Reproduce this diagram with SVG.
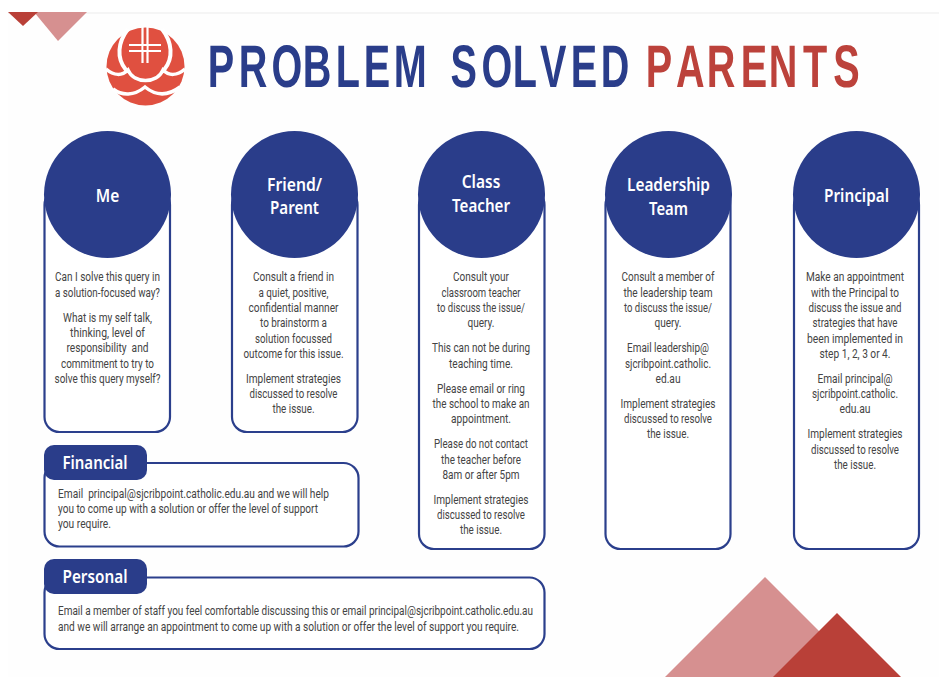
<svg xmlns="http://www.w3.org/2000/svg" width="939" height="677" viewBox="0 0 939 677">
<style>
.box{fill:#fff;stroke:#2b3f8c;stroke-width:2.2}
.head{fill:#2a3d8a}
.t{font-family:Roboto,"Liberation Sans",sans-serif;font-size:13px;fill:#444;text-anchor:middle;white-space:pre}
.l{font-family:Roboto,"Liberation Sans",sans-serif;font-size:13px;fill:#444;white-space:pre}
.h{font-family:"Noto Sans","Liberation Sans",sans-serif;font-size:17px;font-weight:600;fill:#fff;text-anchor:middle}
.title{font-family:"Liberation Sans",Arial,sans-serif;font-size:60px;font-weight:700;text-rendering:geometricPrecision}
</style>
<rect width="939" height="677" fill="#fff"/>
<rect x="8" y="12" width="931" height="665" fill="#fefefe"/>
<rect x="8" y="12" width="931" height="2" fill="#f5f5f5"/>
<g id="decor">
<polygon points="34,12 87,12 58,41" fill="#d69090"/>
<polygon points="8,12 38,12 23,26" fill="#b94038"/>
<polygon points="665,677 765,577 865,677" fill="#d69090"/>
<polygon points="773,677 837,613 901,677" fill="#b94038"/>
</g>
<g id="logo">
<circle cx="145.500" cy="66.500" r="39" fill="#e05040"/>
<path d="M128 29C118 42 116 58 126 70" fill="none" stroke="#fff" stroke-width="4"/>
<path d="M162 29C172 42 174 58 164 70" fill="none" stroke="#fff" stroke-width="4"/>
<path d="M106 69C114 76 122 76 128 70C134 84 157 84 163 70C169 76 177 76 185 69" fill="none" stroke="#fff" stroke-width="3.500"/>
<path d="M113 89C122 96 134 96 145 87C156 96 168 96 180 87" fill="none" stroke="#fff" stroke-width="3.500"/>
<path d="M142.500 27V63M147.500 27V63M129 45H161M129 51H161" fill="none" stroke="#fff" stroke-width="2.200"/>
<rect x="143.600" y="46.100" width="2.800" height="3.800" fill="#e05040"/>
</g>
<g id="title">
<text class="title" fill="#2a3d8a" transform="translate(0,87) scale(.66,1)" x="314.700 361.700 411.300 458.600 508.600 551 596.500">PROBLEM</text>
<text class="title" fill="#2a3d8a" transform="translate(0,87) scale(.66,1)" x="682.600 729.600 776.900 818.200 864.700 910.200">SOLVED</text>
<text class="title" fill="#bc423b" transform="translate(0,87) scale(.66,1)" x="978.400 1024.200 1070.700 1122.200 1164.700 1216.700 1262.700">PARENTS</text>
</g>
<g id="connectors"></g>
<g id="me">
<rect class="box" x="44.500" y="190" width="125.500" height="242" rx="15"/>
<circle class="head" cx="107.500" cy="194.500" r="63.500"/>
<text class="h" x="107.500" y="201.700" textLength="23.500" lengthAdjust="spacingAndGlyphs">Me</text>
<text class="t" x="107.500" y="281" textLength="105" lengthAdjust="spacingAndGlyphs">Can I solve this query in</text>
<text class="t" x="107.500" y="296.500" textLength="105" lengthAdjust="spacingAndGlyphs">a solution-focused way?</text>
<text class="t" x="107.500" y="322" textLength="89" lengthAdjust="spacingAndGlyphs">What is my self talk,</text>
<text class="t" x="107.500" y="337" textLength="75" lengthAdjust="spacingAndGlyphs">thinking, level of</text>
<text class="t" x="107.500" y="352" textLength="82" lengthAdjust="spacingAndGlyphs">responsibility  and</text>
<text class="t" x="107.500" y="367.500" textLength="93" lengthAdjust="spacingAndGlyphs">commitment to try to</text>
<text class="t" x="107.500" y="383" textLength="106" lengthAdjust="spacingAndGlyphs">solve this query myself?</text>
</g>
<g id="friend">
<rect class="box" x="232" y="190" width="125.500" height="242" rx="15"/>
<circle class="head" cx="294.500" cy="194.500" r="63.500"/>
<text class="h" x="294.500" y="190.700" textLength="55" lengthAdjust="spacingAndGlyphs">Friend/</text>
<text class="h" x="294.500" y="214" textLength="49" lengthAdjust="spacingAndGlyphs">Parent</text>
<text class="t" x="293.500" y="281" textLength="81" lengthAdjust="spacingAndGlyphs">Consult a friend in</text>
<text class="t" x="293.500" y="296.500" textLength="70" lengthAdjust="spacingAndGlyphs">a quiet, positive,</text>
<text class="t" x="293.500" y="312" textLength="90" lengthAdjust="spacingAndGlyphs">confidential manner</text>
<text class="t" x="293.500" y="327" textLength="67" lengthAdjust="spacingAndGlyphs">to brainstorm a</text>
<text class="t" x="293.500" y="342.500" textLength="77" lengthAdjust="spacingAndGlyphs">solution focussed</text>
<text class="t" x="293.500" y="358" textLength="100" lengthAdjust="spacingAndGlyphs">outcome for this issue.</text>
<text class="t" x="293.500" y="383" textLength="95" lengthAdjust="spacingAndGlyphs">Implement strategies</text>
<text class="t" x="293.500" y="398" textLength="88" lengthAdjust="spacingAndGlyphs">discussed to resolve</text>
<text class="t" x="293.500" y="413" textLength="42" lengthAdjust="spacingAndGlyphs">the issue.</text>
</g>
<g id="teacher">
<rect class="box" x="419" y="190" width="125.500" height="359" rx="15"/>
<circle class="head" cx="481.500" cy="194.500" r="63.500"/>
<text class="h" x="481" y="188" textLength="38.500" lengthAdjust="spacingAndGlyphs">Class</text>
<text class="h" x="481" y="211.700" textLength="58" lengthAdjust="spacingAndGlyphs">Teacher</text>
<text class="t" x="481" y="281" textLength="56" lengthAdjust="spacingAndGlyphs">Consult your</text>
<text class="t" x="481" y="296.500" textLength="79" lengthAdjust="spacingAndGlyphs">classroom teacher</text>
<text class="t" x="481" y="312" textLength="88" lengthAdjust="spacingAndGlyphs">to discuss the issue/</text>
<text class="t" x="481" y="327" textLength="27" lengthAdjust="spacingAndGlyphs">query.</text>
<text class="t" x="481" y="352" textLength="98" lengthAdjust="spacingAndGlyphs">This can not be during</text>
<text class="t" x="481" y="367.500" textLength="64" lengthAdjust="spacingAndGlyphs">teaching time.</text>
<text class="t" x="481" y="393" textLength="88" lengthAdjust="spacingAndGlyphs">Please email or ring</text>
<text class="t" x="481" y="408" textLength="97" lengthAdjust="spacingAndGlyphs">the school to make an</text>
<text class="t" x="481" y="423" textLength="60" lengthAdjust="spacingAndGlyphs">appointment.</text>
<text class="t" x="481" y="448" textLength="94" lengthAdjust="spacingAndGlyphs">Please do not contact</text>
<text class="t" x="481" y="463.500" textLength="80" lengthAdjust="spacingAndGlyphs">the teacher before</text>
<text class="t" x="481" y="479" textLength="77" lengthAdjust="spacingAndGlyphs">8am or after 5pm</text>
<text class="t" x="481" y="504" textLength="95" lengthAdjust="spacingAndGlyphs">Implement strategies</text>
<text class="t" x="481" y="519" textLength="88" lengthAdjust="spacingAndGlyphs">discussed to resolve</text>
<text class="t" x="481" y="534" textLength="42" lengthAdjust="spacingAndGlyphs">the issue.</text>
</g>
<g id="leadership">
<rect class="box" x="605.500" y="190" width="125" height="359" rx="15"/>
<circle class="head" cx="668.500" cy="194.500" r="63.500"/>
<text class="h" x="668.500" y="191" textLength="83" lengthAdjust="spacingAndGlyphs">Leadership</text>
<text class="h" x="668.500" y="215" textLength="39" lengthAdjust="spacingAndGlyphs">Team</text>
<text class="t" x="668" y="281" textLength="93" lengthAdjust="spacingAndGlyphs">Consult a member of</text>
<text class="t" x="668" y="296.500" textLength="89" lengthAdjust="spacingAndGlyphs">the leadership team</text>
<text class="t" x="668" y="312" textLength="88" lengthAdjust="spacingAndGlyphs">to discuss the issue/</text>
<text class="t" x="668" y="327" textLength="27" lengthAdjust="spacingAndGlyphs">query.</text>
<text class="t" x="668" y="352" textLength="82" lengthAdjust="spacingAndGlyphs">Email leadership@</text>
<text class="t" x="668" y="367.500" textLength="86" lengthAdjust="spacingAndGlyphs">sjcribpoint.catholic.</text>
<text class="t" x="668" y="383" textLength="25" lengthAdjust="spacingAndGlyphs">ed.au</text>
<text class="t" x="668" y="408" textLength="95" lengthAdjust="spacingAndGlyphs">Implement strategies</text>
<text class="t" x="668" y="423" textLength="88" lengthAdjust="spacingAndGlyphs">discussed to resolve</text>
<text class="t" x="668" y="438" textLength="42" lengthAdjust="spacingAndGlyphs">the issue.</text>
</g>
<g id="principal">
<rect class="box" x="794" y="190" width="125" height="359" rx="15"/>
<circle class="head" cx="856.500" cy="194.500" r="63.500"/>
<text class="h" x="856.500" y="201.700" textLength="65" lengthAdjust="spacingAndGlyphs">Principal</text>
<text class="t" x="855" y="281" textLength="98" lengthAdjust="spacingAndGlyphs">Make an appointment</text>
<text class="t" x="855" y="296.500" textLength="88" lengthAdjust="spacingAndGlyphs">with the Principal to</text>
<text class="t" x="855" y="312" textLength="93" lengthAdjust="spacingAndGlyphs">discuss the issue and</text>
<text class="t" x="855" y="327" textLength="85" lengthAdjust="spacingAndGlyphs">strategies that have</text>
<text class="t" x="855" y="342.500" textLength="96" lengthAdjust="spacingAndGlyphs">been implemented in</text>
<text class="t" x="855" y="358" textLength="71" lengthAdjust="spacingAndGlyphs">step 1, 2, 3 or 4.</text>
<text class="t" x="855" y="383" textLength="75" lengthAdjust="spacingAndGlyphs">Email principal@</text>
<text class="t" x="855" y="398" textLength="86" lengthAdjust="spacingAndGlyphs">sjcribpoint.catholic.</text>
<text class="t" x="855" y="413" textLength="31" lengthAdjust="spacingAndGlyphs">edu.au</text>
<text class="t" x="855" y="438" textLength="95" lengthAdjust="spacingAndGlyphs">Implement strategies</text>
<text class="t" x="855" y="453.500" textLength="88" lengthAdjust="spacingAndGlyphs">discussed to resolve</text>
<text class="t" x="855" y="469" textLength="42" lengthAdjust="spacingAndGlyphs">the issue.</text>
</g>
<g id="financial">
<rect class="box" x="44.500" y="463" width="314" height="83.500" rx="15"/>
<rect class="head" x="44" y="445" width="103" height="35" rx="10"/>
<text class="h" x="95" y="469" textLength="65" lengthAdjust="spacingAndGlyphs">Financial</text>
<text class="l" x="58" y="497.500" textLength="271" lengthAdjust="spacingAndGlyphs">Email  principal@sjcribpoint.catholic.edu.au and we will help</text>
<text class="l" x="58" y="513" textLength="260" lengthAdjust="spacingAndGlyphs">you to come up with a solution or offer the level of support</text>
<text class="l" x="58" y="528" textLength="53" lengthAdjust="spacingAndGlyphs">you require.</text>
</g>
<g id="personal">
<rect class="box" x="44.500" y="577.500" width="500" height="71.500" rx="15"/>
<rect class="head" x="44" y="559" width="103" height="35" rx="10"/>
<text class="h" x="95" y="583" textLength="65" lengthAdjust="spacingAndGlyphs">Personal</text>
<text class="l" x="58" y="615" textLength="475" lengthAdjust="spacingAndGlyphs">Email a member of staff you feel comfortable discussing this or email principal@sjcribpoint.catholic.edu.au</text>
<text class="l" x="58" y="630.500" textLength="461" lengthAdjust="spacingAndGlyphs">and we will arrange an appointment to come up with a solution or offer the level of support you require.</text>
</g>
</svg>
